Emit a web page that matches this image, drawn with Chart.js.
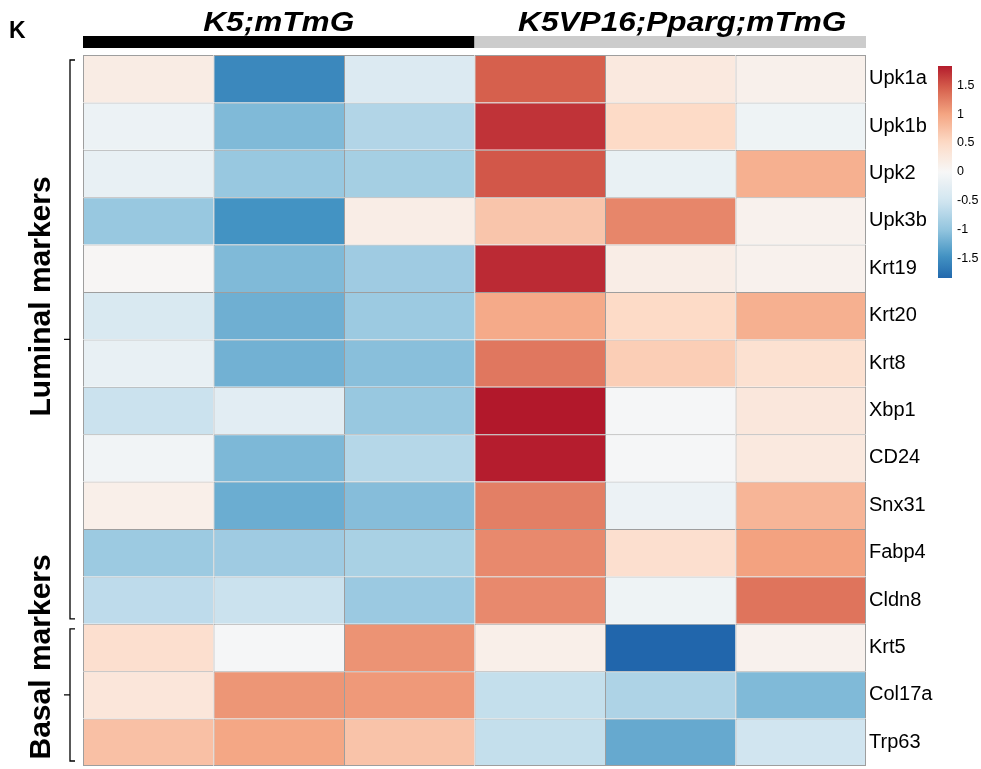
<!DOCTYPE html>
<html>
<head>
<meta charset="utf-8">
<script src="https://cdn.jsdelivr.net/npm/chart.js@4/dist/chart.umd.min.js"></script>
<style>
  html, body { margin: 0; padding: 0; background: #fff; }
  #wrap { width: 981px; height: 769px; }
</style>
</head>
<body>
<div id="wrap"><canvas id="heat"></canvas></div>
<script>
// samples (columns) and genes (rows)
var samples = ['K5_1', 'K5_2', 'K5_3', 'K5VP16_1', 'K5VP16_2', 'K5VP16_3'];
var genes = ['Upk1a', 'Upk1b', 'Upk2', 'Upk3b', 'Krt19', 'Krt20', 'Krt8', 'Xbp1',
             'CD24', 'Snx31', 'Fabp4', 'Cldn8', 'Krt5', 'Col17a', 'Trp63'];

var groups = ['K5;mTmG', 'K5VP16;Pparg;mTmG'];
var groupSizes = [3, 3];
var sideGroups = ['Luminal markers', 'Basal markers'];
var sideSizes = [12, 3];

// z-scores per gene
var upk1a  = [ 0.20, -1.55, -0.35,  1.45,  0.25,  0.12];
var upk1b  = [-0.15, -1.10, -0.75,  1.70,  0.50, -0.12];
var upk2   = [-0.20, -0.95, -0.85,  1.50, -0.18,  0.90];
var upk3b  = [-0.95, -1.45,  0.18,  0.70,  1.20,  0.10];
var krt19  = [ 0.03, -1.10, -0.90,  1.75,  0.18,  0.10];
var krt20  = [-0.40, -1.20, -0.92,  0.95,  0.50,  0.90];
var krt8   = [-0.20, -1.18, -1.05,  1.30,  0.62,  0.40];
var xbp1   = [-0.55, -0.28, -0.95,  1.85, -0.03,  0.28];
var cd24   = [-0.08, -1.12, -0.72,  1.82, -0.02,  0.25];
var snx31  = [ 0.15, -1.22, -1.07,  1.25, -0.15,  0.85];
var fabp4  = [-0.92, -0.90, -0.82,  1.18,  0.42,  1.02];
var cldn8  = [-0.65, -0.55, -0.93,  1.18, -0.12,  1.32];
var krt5   = [ 0.42, -0.03,  1.12,  0.15, -1.85,  0.10];
var col17a = [ 0.30,  1.10,  1.08, -0.60, -0.78, -1.10];
var trp63  = [ 0.75,  0.98,  0.72, -0.60, -1.25, -0.50];
var rows = [upk1a, upk1b, upk2, upk3b, krt19, krt20, krt8, xbp1, cd24, snx31, fabp4, cldn8, krt5, col17a, trp63];

var legendTicks = [-1.5, -1, -0.5, 0, 0.5, 1, 1.5];
var zMin = -1.83, zMax = 1.83;

// RdBu ramp
var rampVals = [-1.85, -1.45, -1, -0.5, 0, 0.5, 1, 1.45, 1.85];
var rampCols = ['#2166AC', '#4393C3', '#92C5DE', '#D1E5F0', '#F7F7F7', '#FDDBC7', '#F4A582', '#D6604D', '#B2182B'];

function hexRgb(h) {
  return [parseInt(h.substr(1, 2), 16), parseInt(h.substr(3, 2), 16), parseInt(h.substr(5, 2), 16)];
}
function colorFor(v) {
  if (v <= rampVals[0]) return rampCols[0];
  if (v >= rampVals[rampVals.length - 1]) return rampCols[rampCols.length - 1];
  for (var i = 0; i < rampVals.length - 1; i++) {
    if (v <= rampVals[i + 1]) {
      var t = (v - rampVals[i]) / (rampVals[i + 1] - rampVals[i]);
      var a = hexRgb(rampCols[i]), b = hexRgb(rampCols[i + 1]);
      return 'rgb(' + Math.round(a[0] + (b[0] - a[0]) * t) + ',' +
                      Math.round(a[1] + (b[1] - a[1]) * t) + ',' +
                      Math.round(a[2] + (b[2] - a[2]) * t) + ')';
    }
  }
}

var datasets = rows.map(function (r, i) {
  return {
    label: genes[i],
    data: samples.map(function () { return 1; }),
    backgroundColor: r.map(colorFor),
    borderColor: '#9E9E9E',
    borderWidth: function (ctx) {
      return {
        top: 1, left: 1,
        right: ctx.dataIndex === samples.length - 1 ? 1 : 0,
        bottom: ctx.datasetIndex === genes.length - 1 ? 1 : 0
      };
    },
    borderSkipped: false,
    inflateAmount: 0,
    barPercentage: 1,
    categoryPercentage: 1
  };
});

var decor = {
  id: 'decor',
  afterDraw: function (chart) {
    var c = chart.ctx, ca = chart.chartArea;
    var xs = chart.scales.x, ys = chart.scales.y;
    c.save();

    // top annotation bars + group titles
    var start = 0;
    var barCols = ['#000000', '#CCCCCC'];
    groups.forEach(function (g, gi) {
      var end = start + groupSizes[gi];
      var x0 = start === 0 ? ca.left : (xs.getPixelForValue(start - 1) + xs.getPixelForValue(start)) / 2;
      var x1 = end === samples.length ? ca.right : (xs.getPixelForValue(end - 1) + xs.getPixelForValue(end)) / 2;
      c.fillStyle = barCols[gi];
      c.fillRect(x0, 36, x1 - x0, 12);
      c.save();
      c.translate((x0 + x1) / 2 + (gi === 1 ? 12 : 0), 31);
      c.scale(1.17, 1);
      c.fillStyle = '#000';
      c.font = 'italic bold 27px "Liberation Sans", Arial, sans-serif';
      c.textAlign = 'center';
      c.textBaseline = 'alphabetic';
      c.fillText(g, 0, 0);
      c.restore();
      start = end;
    });

    // panel letter
    c.fillStyle = '#000';
    c.font = 'bold 23px "Liberation Sans", Arial, sans-serif';
    c.textAlign = 'left';
    c.textBaseline = 'alphabetic';
    c.fillText('K', 9, 38);

    // side brackets + labels
    var r0 = 0;
    var labelShift = [-43, -38];
    sideGroups.forEach(function (s, si) {
      var r1 = r0 + sideSizes[si];
      var top = ys.getPixelForValue(r0) + 5;
      var bot = ys.getPixelForValue(r1) - 5;
      var mid = (ys.getPixelForValue(r0) + ys.getPixelForValue(r1)) / 2;
      c.strokeStyle = '#000';
      c.lineWidth = 1.3;
      c.beginPath();
      c.moveTo(75, top); c.lineTo(70, top); c.lineTo(70, bot); c.lineTo(75, bot);
      c.moveTo(70, mid); c.lineTo(64, mid);
      c.stroke();

      c.save();
      c.translate(50, mid + labelShift[si]);
      c.rotate(-Math.PI / 2);
      c.fillStyle = '#000';
      c.font = 'bold 30px "Liberation Sans", Arial, sans-serif';
      c.textAlign = 'center';
      c.textBaseline = 'alphabetic';
      c.fillText(s, 0, 0);
      c.restore();
      r0 = r1;
    });

    // colour bar
    var lx = 938, lw = 14, lt = 66, lb = 278;
    var grad = c.createLinearGradient(0, lb, 0, lt);
    for (var k = 0; k <= 40; k++) {
      var v = zMin + (zMax - zMin) * k / 40;
      grad.addColorStop(k / 40, colorFor(v));
    }
    c.fillStyle = grad;
    c.fillRect(lx, lt, lw, lb - lt);
    c.fillStyle = '#000';
    c.font = '12.5px "Liberation Sans", Arial, sans-serif';
    c.textAlign = 'left';
    c.textBaseline = 'middle';
    legendTicks.forEach(function (t) {
      var y = lb - (t - zMin) / (zMax - zMin) * (lb - lt);
      c.fillText(String(t), lx + 19, y);
    });
    c.restore();
  }
};

new Chart(document.getElementById('heat'), {
  type: 'bar',
  data: { labels: samples, datasets: datasets },
  options: {
    responsive: true,
    maintainAspectRatio: false,
    animation: false,
    layout: { padding: { left: 83, right: 43, top: 55, bottom: 3 } },
    plugins: { legend: { display: false }, tooltip: { enabled: false } },
    scales: {
      x: { stacked: true, display: false },
      y: { stacked: true, display: false, min: 0, max: genes.length, reverse: true },
      genes: {
        type: 'category',
        labels: genes,
        position: 'right',
        offset: true,
        grid: { display: false, drawTicks: false, tickLength: 0 },
        border: { display: false },
        ticks: {
          color: '#000',
          padding: 3,
          font: { size: 20, family: '"Liberation Sans", Arial, sans-serif' }
        },
        afterFit: function (s) {
          s.width = 72;
          s.paddingTop = 0;
          s.paddingBottom = 0;
        }
      }
    }
  },
  plugins: [decor]
});
</script>
</body>
</html>
